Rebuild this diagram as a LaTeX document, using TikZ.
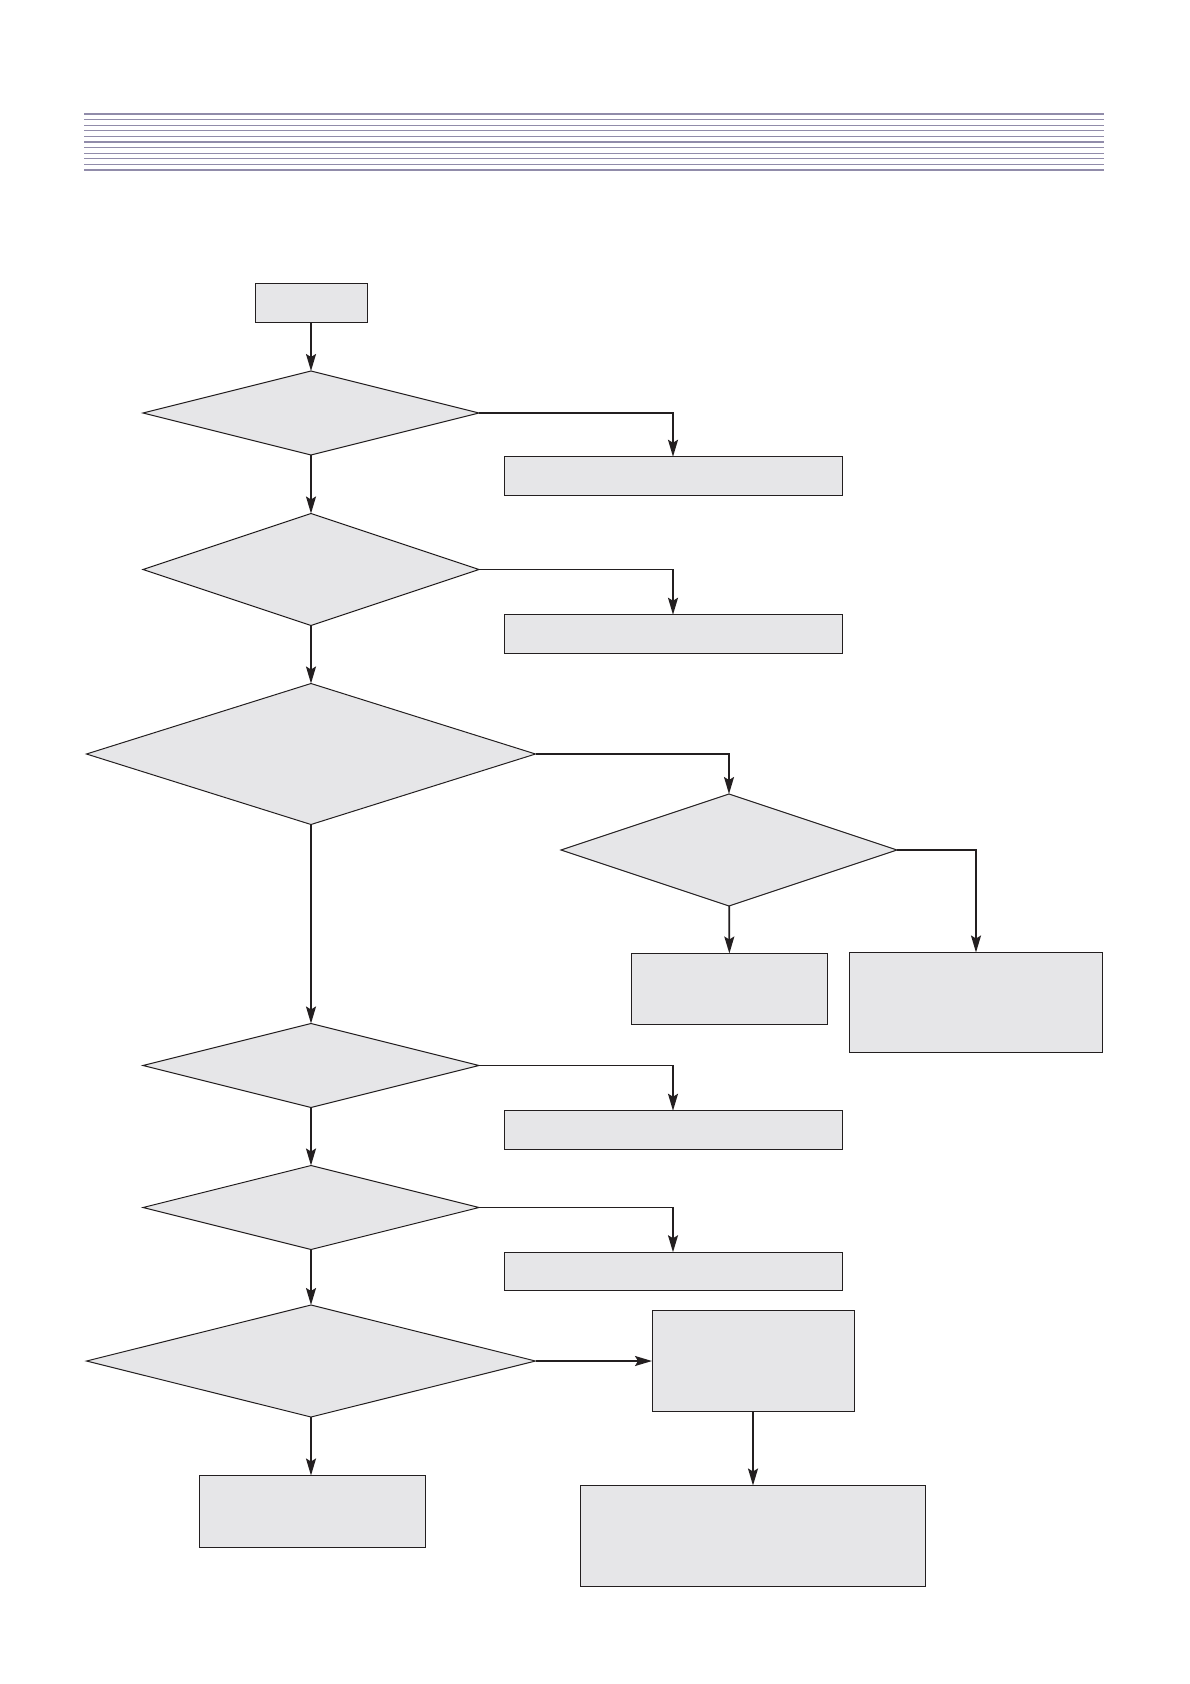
\documentclass[tikz,border=0pt]{standalone}
\usepackage{xcolor}
\usepackage{tikz}
\usetikzlibrary{shapes.geometric,arrows.meta}

\definecolor{boxfill}{RGB}{230,230,232}
\definecolor{boxline}{RGB}{35,31,32}
\definecolor{ruleline}{RGB}{145,140,170}

\begin{document}
\begin{tikzpicture}[
  x=1pt, y=-1pt,
  block/.style={draw=boxline, fill=boxfill, rectangle, line width=1pt, inner sep=0pt, outer sep=0pt},
  decision/.style={draw=boxline, fill=boxfill, diamond, line width=1pt, inner sep=0pt, outer sep=0pt},
  arrow/.style={-{Stealth[length=17pt, width=10pt, inset=3pt]}, line width=1.7pt, draw=boxline},
  rule/.style={draw=ruleline, line width=1.1pt}
]
\useasboundingbox (0,0) rectangle (1190,1684);

% header rules
\foreach \k in {1,...,9}
  \draw[rule] (84,114+5.6*\k) -- (1104,114+5.6*\k);
\draw[rule, line width=2.4pt] (84,114) -- (1104,114);
\draw[rule, line width=2.4pt] (84,170) -- (1104,170);

\node[block, minimum width=112pt, minimum height=39pt] (start) at (311,302.5) {};
\node[decision, minimum width=336pt, minimum height=84pt] (q1) at (311,413) {};
\node[block, minimum width=338pt, minimum height=38.5pt] (r1) at (673,476) {};
\node[decision, minimum width=336pt, minimum height=112pt] (q2) at (311,569.5) {};
\node[block, minimum width=338pt, minimum height=38.5pt] (r2) at (673,634) {};
\node[decision, minimum width=449pt, minimum height=141pt] (q3) at (311,754) {};
\node[decision, minimum width=336pt, minimum height=112pt] (q4) at (729,850) {};
\node[block, minimum width=196.5pt, minimum height=71pt] (r4a) at (729.5,989) {};
\node[block, minimum width=253.5pt, minimum height=100pt] (r4b) at (976,1002.5) {};
\node[decision, minimum width=336pt, minimum height=84pt] (q5) at (311,1065.5) {};
\node[block, minimum width=338pt, minimum height=38.5pt] (r5) at (673,1130) {};
\node[decision, minimum width=336pt, minimum height=84pt] (q6) at (311,1207.5) {};
\node[block, minimum width=338pt, minimum height=38.5pt] (r6) at (673,1271.5) {};
\node[decision, minimum width=449pt, minimum height=112pt] (q7) at (311,1361) {};
\node[block, minimum width=202pt, minimum height=101pt] (r7) at (753,1361) {};
\node[block, minimum width=225.5pt, minimum height=72pt] (r8) at (312.5,1511.5) {};
\node[block, minimum width=345pt, minimum height=101pt] (r9) at (753,1536) {};

\draw[arrow] (start) -- (q1);
\draw[arrow] (q1) -- (q2);
\draw[arrow] (q2) -- (q3);
\draw[arrow] (q3) -- (q5);
\draw[arrow] (q5) -- (q6);
\draw[arrow] (q6) -- (q7);
\draw[arrow] (q7.south) -- (q7.south |- r8.north);
\draw[arrow] (q1.east) -| (r1.north);
\draw[arrow] (q2.east) -| (r2.north);
\draw[arrow] (q3.east) -| (q4.north);
\draw[arrow] (q4) -- (r4a);
\draw[arrow] (q4.east) -| (r4b.north);
\draw[arrow] (q5.east) -| (r5.north);
\draw[arrow] (q6.east) -| (r6.north);
\draw[arrow] (q7) -- (r7);
\draw[arrow] (r7) -- (r9);
\end{tikzpicture}
\end{document}
